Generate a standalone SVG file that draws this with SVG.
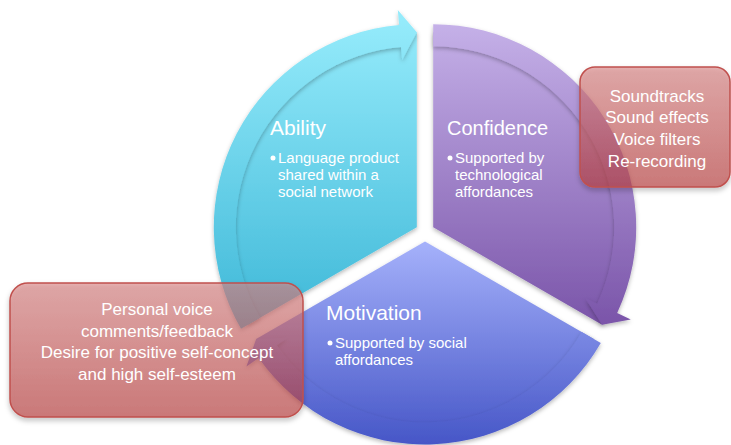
<svg xmlns="http://www.w3.org/2000/svg" width="731" height="445" viewBox="0 0 731 445">
  <defs>
    <linearGradient id="gAbility" gradientUnits="userSpaceOnUse" x1="0" y1="20" x2="0" y2="330">
      <stop offset="0" stop-color="#95ebfb"/>
      <stop offset="1" stop-color="#3db7d7"/>
    </linearGradient>
    <linearGradient id="gConfidence" gradientUnits="userSpaceOnUse" x1="0" y1="20" x2="0" y2="330">
      <stop offset="0" stop-color="#c6b2e9"/>
      <stop offset="1" stop-color="#7953a8"/>
    </linearGradient>
    <linearGradient id="gMotivation" gradientUnits="userSpaceOnUse" x1="0" y1="240" x2="0" y2="445">
      <stop offset="0" stop-color="#a6b2fb"/>
      <stop offset="1" stop-color="#4656c7"/>
    </linearGradient>
    <linearGradient id="gBox" x1="0" y1="0" x2="0" y2="1">
      <stop offset="0" stop-color="#d98484"/>
      <stop offset="1" stop-color="#bb3f3f"/>
    </linearGradient>
    <filter id="shadow" x="-10%" y="-10%" width="120%" height="125%">
      <feDropShadow dx="0" dy="2" stdDeviation="2" flood-color="#000" flood-opacity="0.28"/>
    </filter>
    <filter id="boxShadow" x="-10%" y="-10%" width="120%" height="130%">
      <feDropShadow dx="0" dy="3" stdDeviation="2.5" flood-color="#000" flood-opacity="0.3"/>
    </filter>
    <style>
      .title { font-family: "Liberation Sans", Arial, sans-serif; fill: #ffffff; }
      .body { font-family: "Liberation Sans", Arial, sans-serif; font-size: 15px; fill: #ffffff; }
      .note { font-family: "Liberation Sans", Arial, sans-serif; font-size: 17px; fill: #ffffff; text-anchor: middle; }
      .box { fill: url(#gBox); fill-opacity: 0.62; stroke: #c0504d; stroke-width: 1.5; filter: url(#boxShadow); }
      .dot { fill: #ffffff; }
    </style>
  </defs>

  <!-- pie segments -->
  <g id="seg-ability" filter="url(#shadow)">
    <path d="M 416.8 227.25 L 247.92 324.75 A 195 195 0 0 1 416.8 32.25 Z" fill="url(#gAbility)"/>
  </g>
  <g id="seg-confidence" filter="url(#shadow)">
    <path d="M 433.2 227.25 L 433.2 32.25 A 195 195 0 0 1 602.08 324.75 Z" fill="url(#gConfidence)"/>
  </g>
  <g id="seg-motivation" filter="url(#shadow)">
    <path d="M 425 241.5 L 593.88 339 A 195 195 0 0 1 256.12 339 Z" fill="url(#gMotivation)"/>
  </g>

  <!-- curved arrows along the rim of each segment -->
  <g id="connectors" filter="url(#shadow)">
    <path d="M 260.05 317.75 L 241 328.75 A 203 203 0 0 1 399.11 25.02 L 397.8 10.08 L 416.8 32.25 L 402.16 59.89 L 401.02 46.94 A 181 181 0 0 0 260.05 317.75 Z" fill="url(#gAbility)"/>
    <path d="M 433.2 46.25 L 433.2 24.25 A 203 203 0 0 1 617.18 313.04 L 630.78 319.38 L 602.08 324.75 L 585.46 298.25 L 597.24 303.74 A 181 181 0 0 0 433.2 46.25 Z" fill="url(#gConfidence)"/>
    <path d="M 581.75 332 L 600.8 343 A 203 203 0 0 1 258.71 357.94 L 246.43 366.54 L 256.12 339 L 287.38 337.86 L 276.73 345.32 A 181 181 0 0 0 581.75 332 Z" fill="url(#gMotivation)"/>
  </g>

  <!-- segment labels -->
  <g id="label-ability">
    <text class="title" x="270" y="135" font-size="21">Ability</text>
    <circle class="dot" cx="273" cy="158" r="2.5"/>
    <text class="body" x="278" y="163">Language product</text>
    <text class="body" x="278" y="180">shared within a</text>
    <text class="body" x="278" y="197">social network</text>
  </g>
  <g id="label-confidence">
    <text class="title" x="447" y="135" font-size="20">Confidence</text>
    <circle class="dot" cx="450" cy="158" r="2.5"/>
    <text class="body" x="455" y="163">Supported by</text>
    <text class="body" x="455" y="180">technological</text>
    <text class="body" x="455" y="197">affordances</text>
  </g>
  <g id="label-motivation">
    <text class="title" x="326" y="320" font-size="21">Motivation</text>
    <circle class="dot" cx="330" cy="343" r="2.5"/>
    <text class="body" x="335" y="348">Supported by social</text>
    <text class="body" x="335" y="365">affordances</text>
  </g>

  <!-- callout boxes -->
  <g id="box-tools">
    <rect class="box" x="580" y="67" width="150" height="120" rx="15"/>
    <text class="note" x="657" y="102">Soundtracks</text>
    <text class="note" x="657" y="123">Sound effects</text>
    <text class="note" x="657" y="145">Voice filters</text>
    <text class="note" x="657" y="167">Re-recording</text>
  </g>
  <g id="box-social">
    <rect class="box" x="10" y="283" width="293" height="134" rx="18"/>
    <text class="note" x="157" y="315">Personal voice</text>
    <text class="note" x="157" y="337">comments/feedback</text>
    <text class="note" x="157" y="358">Desire for positive self-concept</text>
    <text class="note" x="157" y="380">and high self-esteem</text>
  </g>
</svg>
